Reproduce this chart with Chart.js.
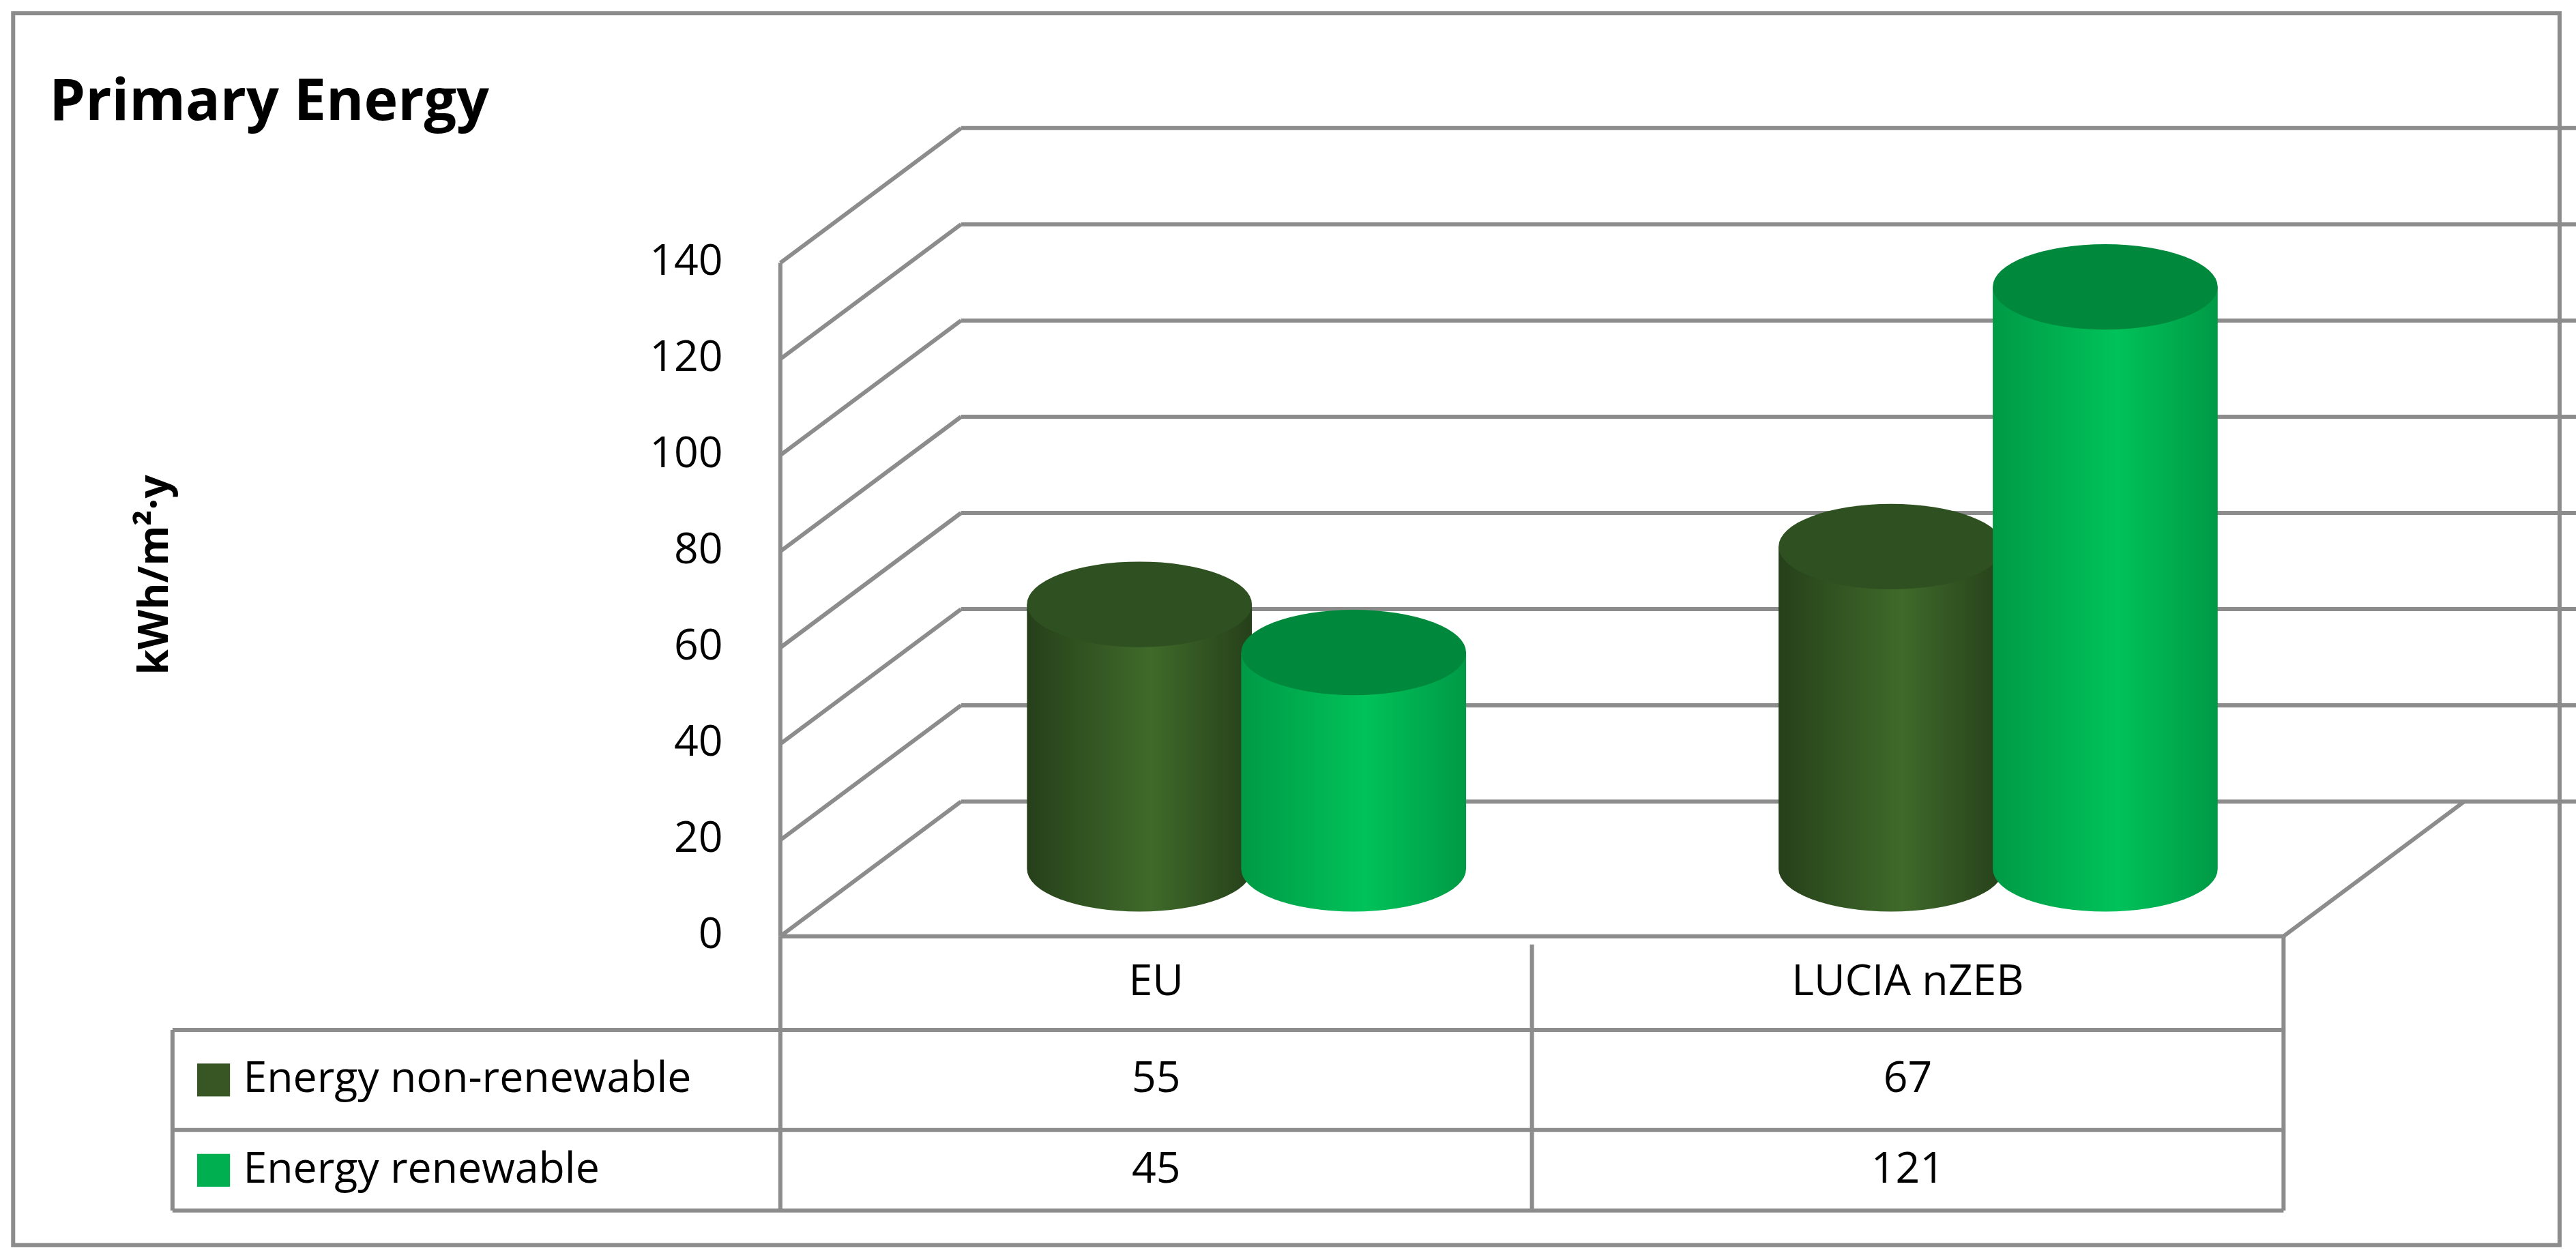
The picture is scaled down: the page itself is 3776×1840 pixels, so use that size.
<!DOCTYPE html>
<html>
<head>
<meta charset="utf-8">
<script src="https://cdn.jsdelivr.net/npm/chart.js@4"></script>
<style>body{margin:0;background:#fff}canvas{display:block}</style>
</head>
<body>
<canvas id="c" width="3776" height="1840"></canvas>
<script>
const categories = ["EU", "LUCIA nZEB"];
const nonRenewable = [55, 67];
const renewable = [45, 121];
const seriesNames = ["Energy non-renewable", "Energy renewable"];
const yTicks = [0, 20, 40, 60, 80, 100, 120, 140];

const S = 3776 / 1568;
const FONT = "'Open Sans', 'Liberation Sans', sans-serif";
const DEPTH_X = 110 * S, DEPTH_Y = 82 * S; // back wall offset
const GRID = "#8c8c8c";

function line(ctx, x1, y1, x2, y2) {
  ctx.beginPath(); ctx.moveTo(x1, y1); ctx.lineTo(x2, y2); ctx.stroke();
}

function cylinder(ctx, cx, top, base, w, dark, light, topCol) {
  const rx = w / 2, ry = 26 * S;
  const g = ctx.createLinearGradient(cx - rx, 0, cx + rx, 0);
  g.addColorStop(0, dark); g.addColorStop(0.55, light); g.addColorStop(1, dark);
  ctx.fillStyle = g;
  ctx.beginPath();
  ctx.moveTo(cx - rx, top);
  ctx.lineTo(cx - rx, base);
  ctx.ellipse(cx, base, rx, ry, 0, Math.PI, 0, true);
  ctx.lineTo(cx + rx, top);
  ctx.closePath(); ctx.fill();
  ctx.fillStyle = topCol;
  ctx.beginPath(); ctx.ellipse(cx, top, rx, ry, 0, 0, Math.PI * 2); ctx.fill();
}

const colors = [
  { dark: "#26401a", light: "#3f6a2a", top: "#2f5020", swatch: "#375623" },
  { dark: "#009a45", light: "#00c25a", top: "#00883c", swatch: "#00b050" }
];

const scene = {
  id: "scene",
  beforeDatasetsDraw(chart) {
    const ctx = chart.ctx, y = chart.scales.y, a = chart.chartArea;
    ctx.save();
    ctx.strokeStyle = GRID; ctx.lineWidth = 2.5 * S;
    // outer frame
    ctx.strokeRect(8 * S, 8 * S, 1550 * S, 750 * S);
    // walls and grid
    yTicks.forEach(v => {
      const yf = y.getPixelForValue(v);
      line(ctx, a.left, yf, a.left + DEPTH_X, yf - DEPTH_Y);
      line(ctx, a.left + DEPTH_X, yf - DEPTH_Y, 1605 * S, yf - DEPTH_Y);
    });
    line(ctx, a.left, a.bottom, a.left, a.top);
    line(ctx, a.left, a.bottom, a.right, a.bottom);
    line(ctx, a.right, a.bottom, a.right + DEPTH_X, a.bottom - DEPTH_Y);
    // y tick labels
    ctx.fillStyle = "#000"; ctx.font = `${26 * S}px ${FONT}`;
    ctx.textAlign = "right"; ctx.textBaseline = "middle";
    yTicks.forEach(v => ctx.fillText(String(v), 440 * S, y.getPixelForValue(v)));
    // title and axis label
    ctx.textAlign = "left";
    ctx.font = `bold ${35 * S}px ${FONT}`;
    ctx.fillText("Primary Energy", 30 * S, 63 * S);
    ctx.save();
    ctx.translate(95 * S, 350 * S); ctx.rotate(-Math.PI / 2);
    ctx.textAlign = "center"; ctx.font = `bold ${25 * S}px ${FONT}`;
    ctx.fillText("kWh/m²·y", 0, 0);
    ctx.restore();
    ctx.restore();
  },
  afterDatasetsDraw(chart) {
    const ctx = chart.ctx, y = chart.scales.y, x = chart.scales.x, a = chart.chartArea;
    ctx.save();
    const shiftX = DEPTH_X / 2, shiftY = 41 * S;
    categories.forEach((_, i) => {
      chart.data.datasets.forEach((ds, d) => {
        const bar = chart.getDatasetMeta(d).data[i];
        const c = colors[d];
        cylinder(ctx, bar.x + shiftX, bar.y - shiftY, bar.base - shiftY, bar.width, c.dark, c.light, c.top);
      });
    });
    // data table
    ctx.strokeStyle = GRID; ctx.lineWidth = 2.5 * S;
    const rows = [627 * S, 688 * S, 737 * S];
    const left = 105 * S;
    line(ctx, a.left, a.bottom, a.left, rows[2]);
    line(ctx, a.right, a.bottom, a.right, rows[2]);
    line(ctx, left, rows[0], left, rows[2]);
    rows.forEach(r => line(ctx, left, r, a.right, r));
    const colEdges = categories.map((_, i) => x.getPixelForValue(i) + (x.getPixelForValue(1) - x.getPixelForValue(0)) / 2);
    line(ctx, colEdges[0], a.bottom + 5 * S, colEdges[0], rows[2]);
    ctx.fillStyle = "#000"; ctx.font = `${26 * S}px ${FONT}`;
    ctx.textAlign = "center"; ctx.textBaseline = "middle";
    const mid = [(a.bottom + rows[0]) / 2, (rows[0] + rows[1]) / 2, (rows[1] + rows[2]) / 2];
    categories.forEach((cat, i) => {
      const cx = x.getPixelForValue(i);
      ctx.fillText(cat, cx, mid[0]);
      chart.data.datasets.forEach((ds, d) => ctx.fillText(String(ds.data[i]), cx, mid[d + 1]));
    });
    ctx.textAlign = "left";
    seriesNames.forEach((n, d) => {
      ctx.fillStyle = colors[d].swatch;
      ctx.fillRect(120 * S, mid[d + 1] - 10 * S, 20 * S, 20 * S);
      ctx.fillStyle = "#000";
      ctx.fillText(n, 148 * S, mid[d + 1]);
    });
    ctx.restore();
  }
};

new Chart(document.getElementById("c"), {
  type: "bar",
  data: {
    labels: categories,
    datasets: [
      { label: seriesNames[0], data: nonRenewable, backgroundColor: "rgba(0,0,0,0)" },
      { label: seriesNames[1], data: renewable, backgroundColor: "rgba(0,0,0,0)" }
    ]
  },
  options: {
    responsive: false, animation: false, devicePixelRatio: 1,
    layout: { padding: { left: 475 * S, right: 3776 - 1390 * S, top: 160 * S, bottom: 1840 - 570 * S } },
    categoryPercentage: 0.57, barPercentage: 1.05,
    plugins: { legend: { display: false }, tooltip: { enabled: false } },
    scales: {
      x: { display: false },
      y: { display: false, min: 0, max: 140 }
    }
  },
  plugins: [scene]
});
</script>
</body>
</html>
